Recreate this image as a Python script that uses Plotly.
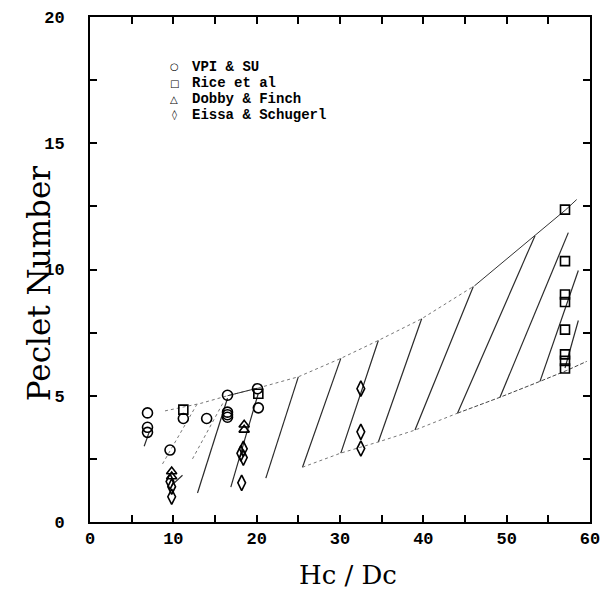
import plotly.graph_objects as go

# ---------------- data ----------------
series_names = ["VPI & SU", "Rice et al", "Dobby & Finch", "Eissa & Schugerl"]
legend_glyphs = ["\u25CB", "\u25A1", "\u25B3", "\u25CA"]

vpi_x = [6.9, 6.9, 6.9, 9.6, 11.2, 14.0, 16.5, 16.5, 16.5, 16.5, 20.1, 20.2]
vpi_y = [4.32, 3.75, 3.55, 2.85, 4.1, 4.1, 5.02, 4.35, 4.25, 4.15, 5.28, 4.52]

rice_x = [11.2, 20.2, 57.0, 57.0, 57.0, 57.0, 57.0, 57.0, 57.0, 57.0]
rice_y = [4.45, 5.08, 12.37, 10.33, 9.01, 8.71, 7.62, 6.64, 6.38, 6.08]

dobby_x = [18.5, 18.5, 9.8, 9.8]
dobby_y = [3.85, 3.65, 2.0, 1.8]

eissa_x = [18.4, 18.1, 18.4, 18.2, 9.6, 9.8, 9.8, 32.5, 32.5, 32.5]
eissa_y = [2.9, 2.72, 2.55, 1.55, 1.6, 1.4, 1.0, 5.28, 3.57, 2.91]

# hatch segments of the shaded band (start -> end)
hatch_x0 = [12.9, 16.9, 21.1, 25.5, 30.1, 34.6, 39.0, 44.1, 49.2, 54.0, 57.0, 6.5, 9.8]
hatch_y0 = [1.15, 1.38, 1.74, 2.17, 2.73, 3.17, 3.64, 4.31, 4.94, 5.57, 6.10, 3.0, 1.45]
hatch_x1 = [16.5, 20.2, 25.0, 30.1, 34.6, 39.8, 46.0, 53.4, 57.4, 58.6, 58.6, 7.1, 11.1]
hatch_y1 = [4.90, 5.10, 5.75, 6.48, 7.19, 8.05, 9.33, 11.34, 11.46, 9.96, 7.98, 3.56, 1.85]

# faint dotted hatch segments at the left end
faint_x0 = [8.7, 12.3]
faint_y0 = [2.3, 2.5]
faint_x1 = [12.9, 16.0]
faint_y1 = [4.7, 4.74]

# band boundaries
upper_dot_x = [9.0, 13.3, 16.5, 20.1, 25.0, 30.1, 34.6, 39.8, 46.2]
upper_dot_y = [4.4, 4.7, 5.0, 5.3, 5.75, 6.48, 7.19, 8.05, 9.37]
upper_solid_x = [46.2, 53.4, 57.1, 58.4]
upper_solid_y = [9.37, 11.34, 12.37, 12.77]
upper_left_solid_x = [16.5, 20.1]
upper_left_solid_y = [5.0, 5.3]
lower_dot_x = [25.5, 30.1, 34.6, 39.0, 44.1]
lower_dot_y = [2.17, 2.73, 3.17, 3.64, 4.31]
lower_solid_x = [44.1, 49.2, 54.0, 57.2, 59.6]
lower_solid_y = [4.31, 4.94, 5.57, 6.0, 6.36]

x_ticks = [0, 10, 20, 30, 40, 50, 60]
y_ticks = [0, 5, 10, 15, 20]


def segs(x0, y0, x1, y1):
    xs, ys = [], []
    for a, b, c, d in zip(x0, y0, x1, y1):
        xs += [a, c, None]
        ys += [b, d, None]
    return xs, ys


fig = go.Figure()

hx, hy = segs(hatch_x0, hatch_y0, hatch_x1, hatch_y1)
fig.add_trace(go.Scatter(x=hx, y=hy, mode="lines",
                         line=dict(color="#2a2a2a", width=1.2),
                         showlegend=False, hoverinfo="skip"))
fx, fy = segs(faint_x0, faint_y0, faint_x1, faint_y1)
fig.add_trace(go.Scatter(x=fx, y=fy, mode="lines",
                         line=dict(color="#777777", width=1, dash="dot"),
                         showlegend=False, hoverinfo="skip"))
fig.add_trace(go.Scatter(x=upper_dot_x, y=upper_dot_y, mode="lines",
                         line=dict(color="#777777", width=1, dash="dot"),
                         showlegend=False, hoverinfo="skip"))
fig.add_trace(go.Scatter(x=lower_dot_x, y=lower_dot_y, mode="lines",
                         line=dict(color="#777777", width=1, dash="dot"),
                         showlegend=False, hoverinfo="skip"))
fig.add_trace(go.Scatter(x=upper_solid_x, y=upper_solid_y, mode="lines",
                         line=dict(color="#333333", width=1),
                         showlegend=False, hoverinfo="skip"))
fig.add_trace(go.Scatter(x=upper_left_solid_x, y=upper_left_solid_y, mode="lines",
                         line=dict(color="#333333", width=1),
                         showlegend=False, hoverinfo="skip"))
fig.add_trace(go.Scatter(x=lower_solid_x, y=lower_solid_y, mode="lines",
                         line=dict(color="#444444", width=1, dash="4px,2px"),
                         showlegend=False, hoverinfo="skip"))

mk_line = dict(color="black", width=1.6)
fig.add_trace(go.Scatter(x=vpi_x, y=vpi_y, mode="markers", name=series_names[0],
                         marker=dict(symbol="circle-open", size=10, color="black", line=mk_line),
                         showlegend=False))
fig.add_trace(go.Scatter(x=rice_x, y=rice_y, mode="markers", name=series_names[1],
                         marker=dict(symbol="square-open", size=9, color="black", line=mk_line),
                         showlegend=False))
fig.add_trace(go.Scatter(x=dobby_x, y=dobby_y, mode="markers", name=series_names[2],
                         marker=dict(symbol="triangle-up-open", size=9, color="black", line=mk_line),
                         showlegend=False))
fig.add_trace(go.Scatter(x=eissa_x, y=eissa_y, mode="markers", name=series_names[3],
                         marker=dict(symbol="diamond-tall-open", size=11, color="black", line=mk_line),
                         showlegend=False))

# legend drawn as text rows in the upper-left of the plot
row_y = [0.901, 0.869, 0.837, 0.805]
for glyph, name, yy in zip(legend_glyphs, series_names, row_y):
    fig.add_annotation(x=0.168, y=yy, xref="paper", yref="paper", text=glyph,
                       showarrow=False, xanchor="center", yanchor="middle",
                       font=dict(family="DejaVu Sans", size=10, color="black"))
    fig.add_annotation(x=0.200, y=yy, xref="paper", yref="paper", text=name,
                       showarrow=False, xanchor="left", yanchor="middle",
                       font=dict(family="Liberation Mono", size=14, color="black", weight="bold"))

# axis titles
fig.add_annotation(x=0.516, y=-0.105, xref="paper", yref="paper", text="Hc / Dc",
                   showarrow=False, xanchor="center", yanchor="middle",
                   font=dict(family="DejaVu Serif", size=26, color="black"))
fig.add_annotation(x=-0.102, y=0.471, xref="paper", yref="paper", text="Peclet Number",
                   showarrow=False, xanchor="center", yanchor="middle", textangle=-90,
                   font=dict(family="DejaVu Serif", size=31, color="black"))

axis_common = dict(showline=True, linecolor="black", linewidth=2, mirror="ticks",
                   ticks="inside", ticklen=7, tickwidth=1.5, tickcolor="black",
                   showgrid=False, zeroline=False, automargin=False,
                   tickfont=dict(family="Liberation Mono", size=17, color="black", weight="bold"))

fig.update_xaxes(range=[0, 60], tickvals=x_ticks, ticktext=[str(v) for v in x_ticks],
                 minor=dict(dtick=5, ticks="inside", ticklen=7, tickwidth=1.5, tickcolor="black"),
                 **axis_common)
fig.update_yaxes(range=[0, 20], tickvals=y_ticks, ticktext=[str(v) for v in y_ticks],
                 minor=dict(dtick=2.5, ticks="inside", ticklen=7, tickwidth=1.5, tickcolor="black"),
                 ticklabelstandoff=20,
                 **axis_common)

# page body adds an 8px offset, so margins are shifted to put the plot at x 90-590, y 17-522
fig.update_layout(width=611, height=599, margin=dict(l=82, r=29, t=9, b=85),
                  paper_bgcolor="white", plot_bgcolor="white", showlegend=False)

fig.write_html("out.html")
